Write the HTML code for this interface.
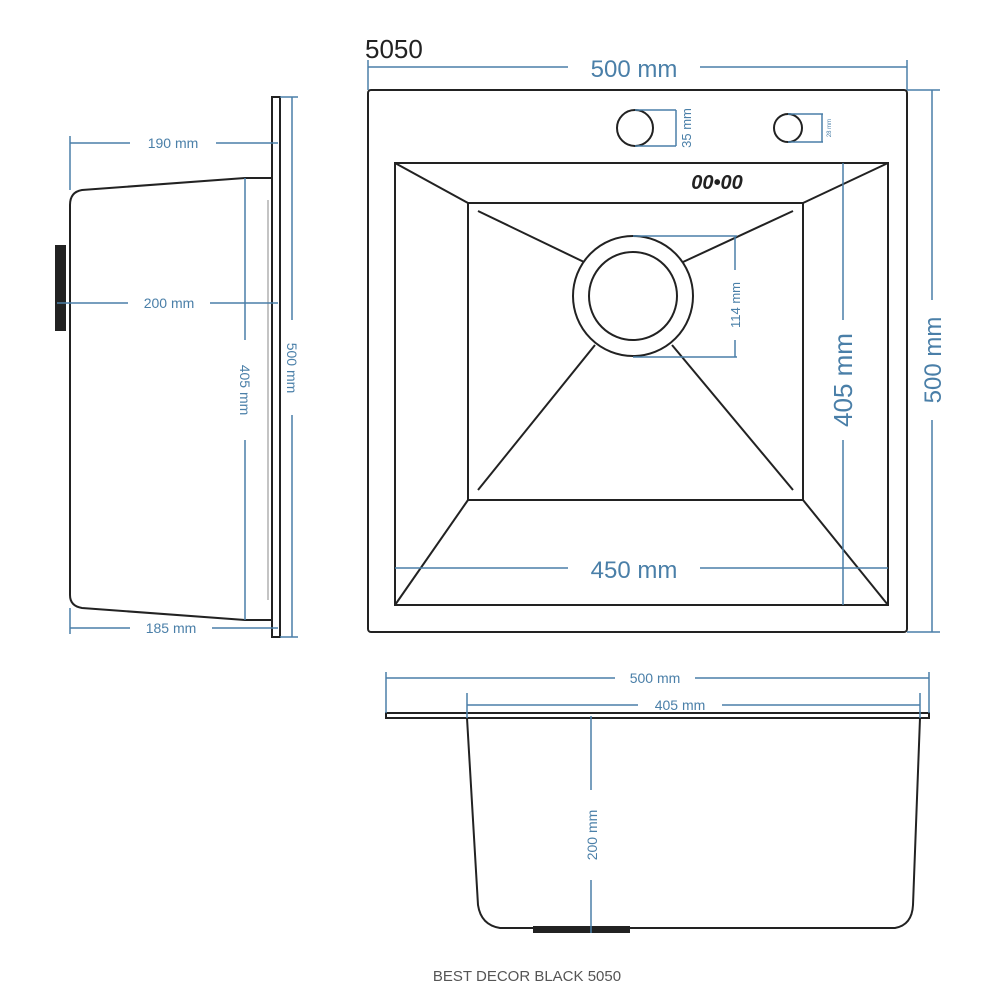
<!DOCTYPE html>
<html><head><meta charset="utf-8"><style>
html,body{margin:0;padding:0;background:#fff}
svg{display:block}
text{font-family:"Liberation Sans",sans-serif}
</style></head><body>
<svg width="1000" height="1000" viewBox="0 0 1000 1000" xmlns="http://www.w3.org/2000/svg">
<g fill="none" stroke="#222" stroke-width="2">
 <rect x="368" y="90" width="539" height="542" rx="3"/>
 <path d="M395 163 H888 V605 H395 Z"/>
 <path d="M468 203 H803 V500 H468 Z"/>
 <line x1="395" y1="163" x2="468" y2="203"/><line x1="888" y1="163" x2="803" y2="203"/>
 <line x1="395" y1="605" x2="468" y2="500"/><line x1="888" y1="605" x2="803" y2="500"/>
 <line x1="478" y1="211" x2="584" y2="262"/><line x1="793" y1="211" x2="683" y2="262"/>
 <line x1="478" y1="490" x2="595" y2="345"/><line x1="793" y1="490" x2="672" y2="345"/>
 <circle cx="633" cy="296" r="60"/><circle cx="633" cy="296" r="44"/>
 <circle cx="635" cy="128" r="18"/><circle cx="788" cy="128" r="14"/>
 <rect x="272" y="97" width="8" height="540"/>
 <path d="M272 178 H245 L82 190 Q70 192 70 205 V595 Q70 606 82 608 L245 620 H272"/>
 <line x1="268" y1="200" x2="268" y2="600" stroke-width="1" stroke="#888"/>
 <rect x="386" y="713" width="543" height="5"/>
 <path d="M467 718 L478 905 Q481 925 500 928 H895 Q912 925 913 905 L920 718"/>
</g>
<rect x="55" y="245" width="11" height="86" fill="#222"/>
<rect x="533" y="926" width="97" height="7" fill="#222"/>
<text x="717" y="189" font-size="20" font-weight="bold" font-style="italic" fill="#222" text-anchor="middle">00•00</text>
<g stroke="#4a7fa8" stroke-width="1.5" fill="none">
 <line x1="368" y1="67" x2="568" y2="67"/><line x1="700" y1="67" x2="907" y2="67"/>
 <line x1="368" y1="60" x2="368" y2="90"/><line x1="907" y1="60" x2="907" y2="90"/>
 <line x1="932" y1="90" x2="932" y2="300"/><line x1="932" y1="420" x2="932" y2="632"/>
 <line x1="907" y1="90" x2="940" y2="90"/><line x1="907" y1="632" x2="940" y2="632"/>
 <line x1="843" y1="163" x2="843" y2="320"/><line x1="843" y1="440" x2="843" y2="605"/>
 <line x1="395" y1="568" x2="568" y2="568"/><line x1="700" y1="568" x2="888" y2="568"/>
 <line x1="633" y1="236" x2="737" y2="236"/><line x1="633" y1="357" x2="737" y2="357"/>
 <line x1="735" y1="236" x2="735" y2="270"/><line x1="735" y1="340" x2="735" y2="357"/>
 <line x1="635" y1="110" x2="676" y2="110"/><line x1="635" y1="146" x2="676" y2="146"/><line x1="676" y1="110" x2="676" y2="146"/>
 <line x1="788" y1="114" x2="823" y2="114"/><line x1="788" y1="142" x2="823" y2="142"/><line x1="822" y1="114" x2="822" y2="142"/>
 <line x1="70" y1="143" x2="130" y2="143"/><line x1="216" y1="143" x2="278" y2="143"/><line x1="70" y1="136" x2="70" y2="190"/>
 <line x1="57" y1="303" x2="128" y2="303"/><line x1="210" y1="303" x2="278" y2="303"/>
 <line x1="70" y1="628" x2="130" y2="628"/><line x1="212" y1="628" x2="278" y2="628"/><line x1="70" y1="608" x2="70" y2="634"/>
 <line x1="245" y1="178" x2="245" y2="340"/><line x1="245" y1="440" x2="245" y2="620"/>
 <line x1="292" y1="97" x2="292" y2="320"/><line x1="292" y1="415" x2="292" y2="637"/>
 <line x1="280" y1="97" x2="298" y2="97"/><line x1="280" y1="637" x2="298" y2="637"/>
 <line x1="386" y1="678" x2="615" y2="678"/><line x1="695" y1="678" x2="929" y2="678"/>
 <line x1="386" y1="672" x2="386" y2="713"/><line x1="929" y1="672" x2="929" y2="713"/>
 <line x1="467" y1="705" x2="638" y2="705"/><line x1="722" y1="705" x2="920" y2="705"/>
 <line x1="467" y1="693" x2="467" y2="718"/><line x1="920" y1="693" x2="920" y2="718"/>
 <line x1="591" y1="716" x2="591" y2="790"/><line x1="591" y1="880" x2="591" y2="933"/>
</g>
<g fill="#4a7fa8" text-anchor="middle">
 <text x="634" y="77" font-size="24">500 mm</text>
 <text x="634" y="578" font-size="24">450 mm</text>
 <text transform="translate(941,360) rotate(-90)" font-size="24">500 mm</text>
 <text transform="translate(852,380) rotate(-90)" font-size="26">405 mm</text>
 <text transform="translate(740,305) rotate(-90)" font-size="13">114 mm</text>
 <text transform="translate(691,128) rotate(-90)" font-size="13">35 mm</text>
 <text transform="translate(831,128) rotate(-90)" font-size="6">28 mm</text>
 <text x="173" y="148" font-size="14">190 mm</text>
 <text x="169" y="308" font-size="14">200 mm</text>
 <text x="171" y="633" font-size="14">185 mm</text>
 <text transform="translate(240,390) rotate(90)" font-size="14">405 mm</text>
 <text transform="translate(287,368) rotate(90)" font-size="14">500 mm</text>
 <text x="655" y="683" font-size="14">500 mm</text>
 <text x="680" y="710" font-size="14">405 mm</text>
 <text transform="translate(597,835) rotate(-90)" font-size="14">200 mm</text>
</g>
<text x="365" y="58" font-size="26" fill="#222">5050</text>
<text x="527" y="981" font-size="15" fill="#555" text-anchor="middle">BEST DECOR BLACK 5050</text>
</svg>
</body></html>
